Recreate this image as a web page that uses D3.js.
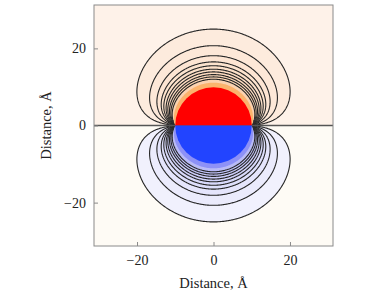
<!DOCTYPE html>
<html>
<head>
<meta charset="utf-8">
<script src="https://cdn.jsdelivr.net/npm/d3@7"></script>
<style>
  body { margin: 0; background: #fff; }
  text { font-family: "Liberation Serif", "DejaVu Serif", serif; fill: #222; }
</style>
</head>
<body>
<svg id="chart" width="382" height="295"></svg>
<script>
// axis extent and ticks (Angstrom)
const domain = [-31.25, 31.25];
const tickValues = [-20, 0, 20];
const sphereRadius = 10;
const kappa = 0.12;               // inverse screening length, 1/Å
// on-axis distances where each contour crosses x = 0
const contourRadii = [25, 20.7, 18.1, 16.5, 15.5, 14.6, 13.9, 13.2, 12.6, 12.0];
const innerBandRadius = 11.1;     // edge of the strong-coloured shell, no line

const width = 382, height = 295;
const margin = {left: 94, right: 49, top: 5, bottom: 49};

const svg = d3.select("#chart");
const x = d3.scaleLinear().domain(domain).range([margin.left, width - margin.right]);
const y = d3.scaleLinear().domain(domain).range([height - margin.bottom, margin.top]);

// screened potential outside a sphere held at +1 (upper half) / -1 (lower half)
const L = 320;
const R = sphereRadius, x0 = kappa * R;
const coef = new Float64Array(L + 1);
{
  // P_n(0) for even n
  const p0 = new Float64Array(L + 3);
  p0[0] = 1;
  for (let n = 2; n <= L + 2; n += 2) p0[n] = -p0[n - 2] * (n - 1) / n;
  for (let l = 1; l <= L; l += 2) coef[l] = p0[l - 1] - p0[l + 1];
}
const rho0 = new Float64Array(L + 1);
rho0[1] = 1 + 1 / x0;
for (let l = 1; l < L; l++) rho0[l + 1] = 1 / rho0[l] + (2 * l + 1) / x0;

function potential(px, py) {
  const r = Math.hypot(px, py);
  if (r <= R) return py >= 0 ? 1 : -1;
  const c = py / r, xr = kappa * r;
  let g = (x0 / xr) * Math.exp(-(xr - x0));
  let rho = 1 + 1 / xr;
  let pPrev = 1, p = c, sum = 0;
  for (let l = 1; l <= L; l++) {
    if (l > 1) rho = 1 / rho + (2 * l - 1) / xr;
    g *= rho / rho0[l];
    if (l & 1) sum += coef[l] * g * p;
    const pNext = ((2 * l + 1) * c * p - l * pPrev) / (l + 1);
    pPrev = p; p = pNext;
    if (g < 1e-9) break;
  }
  return sum;
}

const levels = contourRadii.map(z => potential(0, z));
const innerLevel = potential(0, innerBandRadius);

// sample grid
const n = 300;
const step = (domain[1] - domain[0]) / n;
const values = new Float64Array(n * n);
for (let j = 0; j < n; j++) {
  const py = domain[1] - (j + 0.5) * step;
  for (let i = 0; i < n; i++) {
    values[j * n + i] = potential(domain[0] + (i + 0.5) * step, py);
  }
}
const negValues = values.map(v => -v);

const proj = d3.geoTransform({
  point(cx, cy) {
    this.stream.point(x(domain[0] + cx * step), y(domain[1] - cy * step));
  }
});
const path = d3.geoPath(proj);

svg.append("clipPath").attr("id", "plot-clip")
  .append("rect")
  .attr("x", x(domain[0])).attr("y", y(domain[1]))
  .attr("width", x(domain[1]) - x(domain[0]))
  .attr("height", y(domain[0]) - y(domain[1]));

const plot = svg.append("g").attr("clip-path", "url(#plot-clip)");

// half-plane backgrounds
plot.append("rect")
  .attr("x", x(domain[0])).attr("y", y(domain[1]))
  .attr("width", x(domain[1]) - x(domain[0]))
  .attr("height", y(0) - y(domain[1]))
  .attr("fill", "#fef2e9");
plot.append("rect")
  .attr("x", x(domain[0])).attr("y", y(0))
  .attr("width", x(domain[1]) - x(domain[0]))
  .attr("height", y(domain[0]) - y(0))
  .attr("fill", "#fefbf5");

const warm = d3.interpolateRgb("#fdebdd", "#fbd2b0");
const cool = d3.interpolateRgb("#f1f1fd", "#b9bbf7");

function drawSide(vals, colorFn, strongColor) {
  const contours = d3.contours().size([n, n]).thresholds(levels.concat([innerLevel]))(vals);
  const g = plot.append("g");
  contours.forEach((c, k) => {
    const isInner = k === levels.length;
    g.append("path")
      .attr("d", path(c))
      .attr("fill", isInner ? strongColor : colorFn(k / (levels.length - 1)))
      .attr("stroke", isInner ? "none" : "#262626")
      .attr("stroke-width", 1.1)
      .attr("stroke-linejoin", "round");
  });
}
drawSide(values, warm, "#fbb36d");
drawSide(negValues, cool, "#8d91f7");

// zero contour along the equatorial plane
plot.append("line")
  .attr("x1", x(domain[0])).attr("x2", x(domain[1]))
  .attr("y1", y(0)).attr("y2", y(0))
  .attr("stroke", "#555").attr("stroke-width", 1.3);

// the charged sphere
const arc = d3.arc().innerRadius(0).outerRadius(x(R) - x(0));
const sphere = plot.append("g").attr("transform", `translate(${x(0)},${y(0)})`);
sphere.append("path").attr("d", arc({startAngle: -Math.PI / 2, endAngle: Math.PI / 2})).attr("fill", "#ff0000");
sphere.append("path").attr("d", arc({startAngle: Math.PI / 2, endAngle: 3 * Math.PI / 2})).attr("fill", "#2244ff");

// frame
svg.append("rect")
  .attr("x", x(domain[0])).attr("y", y(domain[1]))
  .attr("width", x(domain[1]) - x(domain[0]))
  .attr("height", y(domain[0]) - y(domain[1]))
  .attr("fill", "none").attr("stroke", "#8a8a8a").attr("stroke-width", 1);

const fmt = d => d < 0 ? "\u2212" + Math.abs(d) : String(d);

const xAxis = svg.append("g").attr("transform", `translate(0,${y(domain[0])})`)
  .call(d3.axisBottom(x).tickValues(tickValues).tickSizeInner(-4).tickSizeOuter(0).tickPadding(9).tickFormat(fmt));
const yAxis = svg.append("g").attr("transform", `translate(${x(domain[0])},0)`)
  .call(d3.axisLeft(y).tickValues(tickValues).tickSizeInner(-4).tickSizeOuter(0).tickPadding(8).tickFormat(fmt));
[xAxis, yAxis].forEach(a => {
  a.select(".domain").remove();
  a.selectAll(".tick line").attr("stroke", "#8a8a8a");
  a.selectAll(".tick text").attr("font-size", 14).attr("fill", "#222")
    .attr("font-family", "Liberation Serif, DejaVu Serif, serif");
});

svg.append("text")
  .attr("x", x(0)).attr("y", 288)
  .attr("text-anchor", "middle").attr("font-size", 14.5)
  .text("Distance, Å");
svg.append("text")
  .attr("transform", `translate(51,${y(0)}) rotate(-90)`)
  .attr("text-anchor", "middle").attr("font-size", 14.5)
  .text("Distance, Å");
</script>
</body>
</html>
